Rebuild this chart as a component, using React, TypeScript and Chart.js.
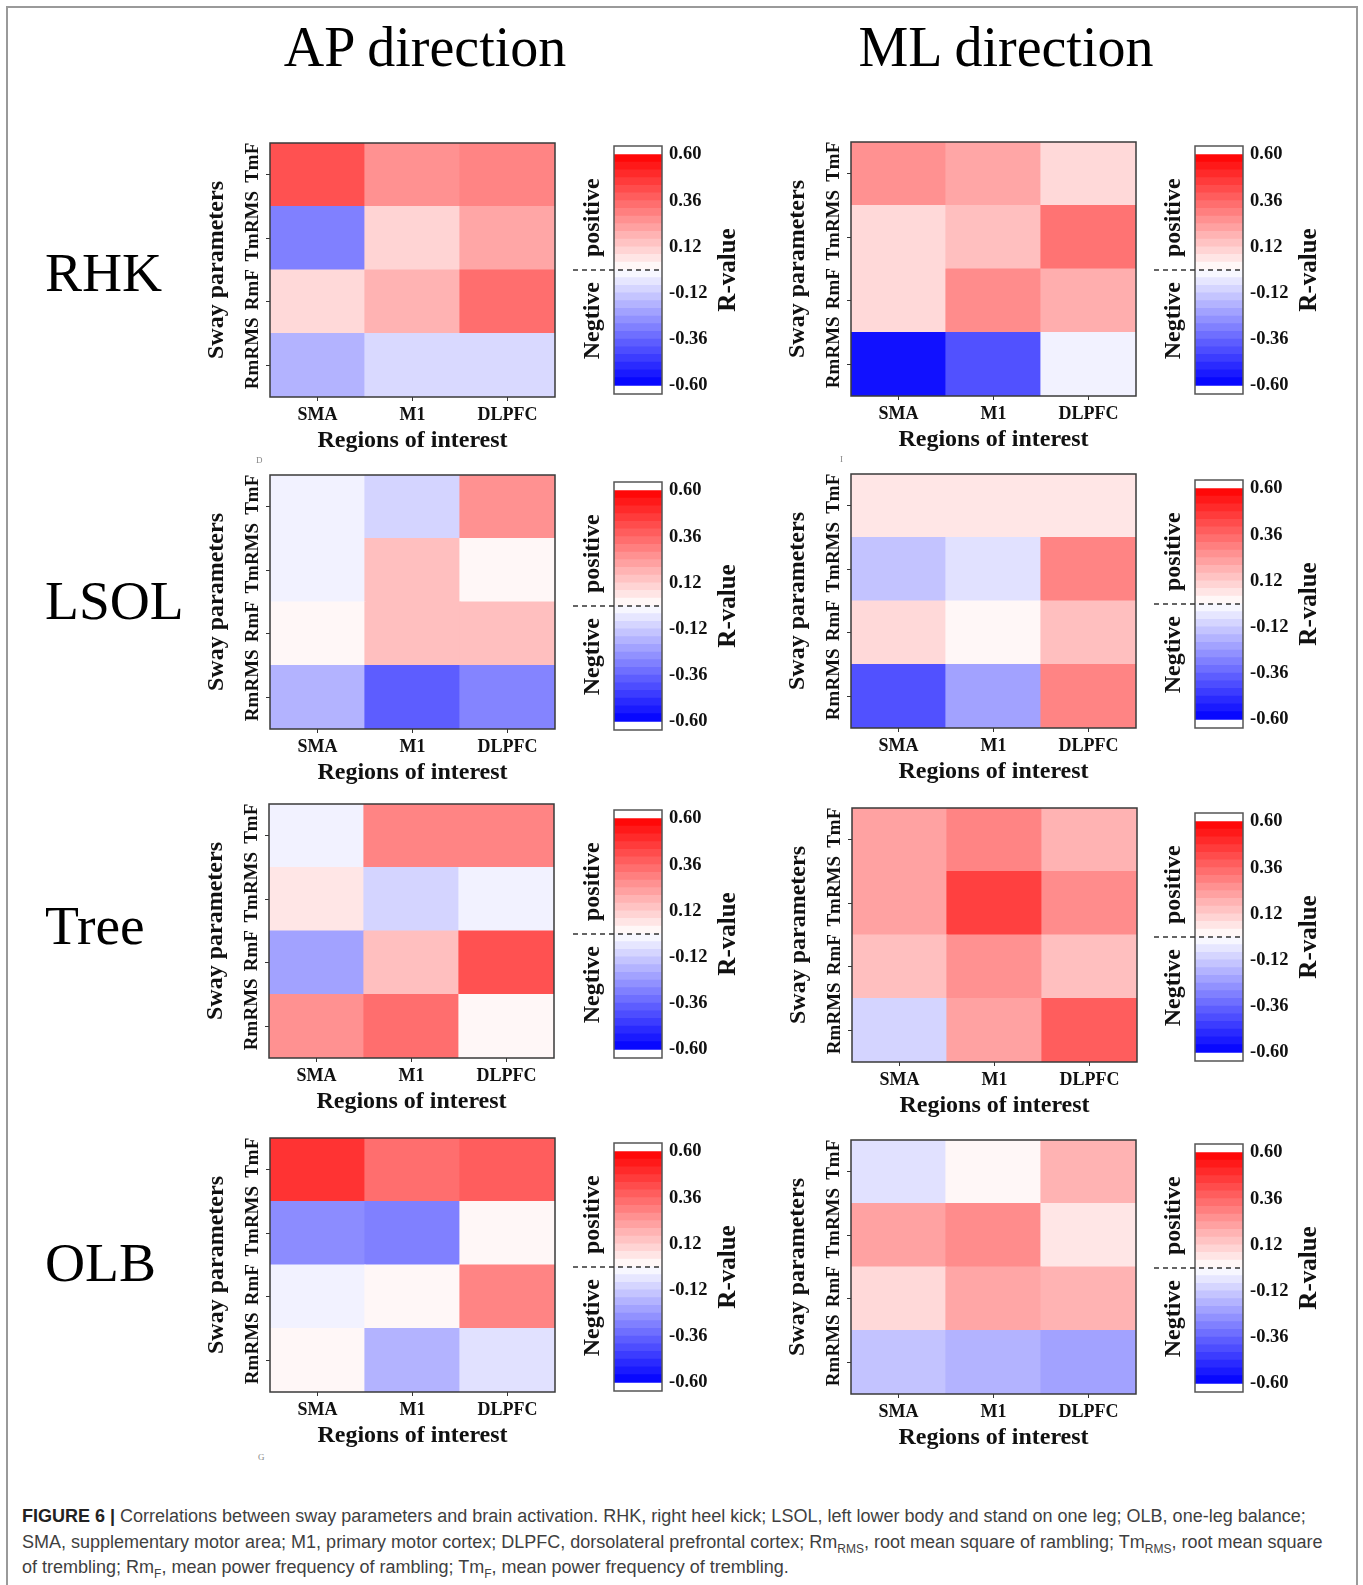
import React, { useEffect, useRef } from 'react';
import { Chart, registerables } from 'chart.js';

Chart.register(...registerables);

const SERIF = '"Liberation Serif", "Times New Roman", serif';
const SANS = '"Liberation Sans", Arial, sans-serif';

// Categories
const REGIONS = ['SMA', 'M1', 'DLPFC'];
const SWAY_PARAMS = ['RmRMS', 'RmF', 'TmRMS', 'TmF']; // bottom -> top
const SWAY_TICKS = [0.5, 1.5, 2.5, 3.5];
const CBAR_TICKS = [-0.6, -0.36, -0.12, 0.12, 0.36, 0.6];
const CBAR_LIMIT = 0.6;
const CBAR_STEP = 0.04;
const CBAR_RANGE = 0.645;

// R-values, rows bottom -> top (RmRMS, RmF, TmRMS, TmF), columns SMA, M1, DLPFC
const RHK_AP = [[-0.18, -0.09, -0.09], [0.09, 0.18, 0.34], [-0.30, 0.10, 0.21], [0.41, 0.26, 0.29]];
const RHK_ML = [[-0.56, -0.41, -0.03], [0.09, 0.27, 0.19], [0.09, 0.15, 0.33], [0.26, 0.21, 0.09]];
const LSOL_AP = [[-0.18, -0.38, -0.29], [0.02, 0.15, 0.15], [-0.03, 0.15, 0.02], [-0.03, -0.10, 0.26]];
const LSOL_ML = [[-0.41, -0.22, 0.29], [0.09, 0.02, 0.15], [-0.14, -0.07, 0.29], [0.06, 0.06, 0.06]];
const TREE_AP = [[0.26, 0.34, 0.02], [-0.22, 0.15, 0.41], [0.06, -0.10, -0.03], [-0.03, 0.29, 0.29]];
const TREE_ML = [[-0.10, 0.22, 0.38], [0.15, 0.26, 0.15], [0.22, 0.45, 0.27], [0.22, 0.29, 0.18]];
const OLB_AP = [[0.02, -0.18, -0.07], [-0.03, 0.02, 0.29], [-0.27, -0.30, 0.02], [0.48, 0.34, 0.38]];
const OLB_ML = [[-0.14, -0.18, -0.22], [0.09, 0.21, 0.18], [0.22, 0.27, 0.06], [-0.07, 0.02, 0.18]];

const TASKS = ['RHK', 'LSOL', 'Tree', 'OLB'];
const AP_VALUES = [RHK_AP, LSOL_AP, TREE_AP, OLB_AP];
const ML_VALUES = [RHK_ML, LSOL_ML, TREE_ML, OLB_ML];

// layout (page pixels)
const AP_PLOTS = [[270, 143], [270, 475], [269, 804], [270, 1138]];
const ML_PLOTS = [[851, 142], [851, 474], [852, 808], [851, 1140]];
const AP_CBARS = [[614, 146], [614, 482], [614, 810], [614, 1143]];
const ML_CBARS = [[1195, 146], [1195, 480], [1195, 813], [1195, 1144]];
const TASK_TOPS = [245, 573, 898, 1235];

const PLOT_W = 285;
const PLOT_H = 254;
const Y_AXIS_W = 75;
const X_AXIS_H = 60;
const CB_W = 48;
const CB_H = 248;

function rColor(r: number) {
  const t = Math.max(-1, Math.min(1, r / CBAR_LIMIT));
  const c = Math.round(255 * (1 - Math.abs(t)));
  return t >= 0 ? `rgb(255,${c},${c})` : `rgb(${c},${c},255)`;
}

const framePlugin = {
  id: 'plotFrame',
  afterDraw(chart: any) {
    const { ctx, chartArea: a } = chart;
    ctx.save();
    ctx.strokeStyle = '#3a3a3a';
    ctx.lineWidth = 1.5;
    ctx.strokeRect(a.left, a.top, a.right - a.left, a.bottom - a.top);
    ctx.restore();
  },
};

function Heatmap({ values, plotLeft, plotTop }: { values: number[][]; plotLeft: number; plotTop: number }) {
  const ref = useRef<HTMLCanvasElement>(null);
  const W = Y_AXIS_W + PLOT_W + 10;
  const H = 10 + PLOT_H + X_AXIS_H;
  useEffect(() => {
    const meas = document.createElement('canvas').getContext('2d')!;
    meas.font = `bold 19px ${SERIF}`;
    const widest = Math.max(...SWAY_PARAMS.map((s) => meas.measureText(s).width));
    const yPad = 17 - 4 - widest / 2;
    const chart = new Chart(ref.current!, {
      type: 'bar',
      data: {
        labels: REGIONS,
        datasets: SWAY_PARAMS.map((name, ri) => ({
          label: name,
          data: values[ri].map(() => 1),
          backgroundColor: values[ri].map(rColor),
          borderWidth: 0,
          barPercentage: 1,
          categoryPercentage: 1,
          inflateAmount: 0.6,
        })),
      },
      options: {
        responsive: false,
        animation: false,
        devicePixelRatio: 1,
        events: [],
        layout: { padding: { top: 10, right: 10, left: 0, bottom: 0 } },
        plugins: { legend: { display: false }, tooltip: { enabled: false } },
        scales: {
          x: {
            stacked: true,
            offset: true,
            grid: { offset: false, drawOnChartArea: false, drawTicks: true, tickLength: 4, color: '#333', lineWidth: 1 },
            border: { display: false },
            ticks: { font: { family: SERIF, size: 18, weight: 'bold' }, color: '#111', padding: 4, maxRotation: 0, autoSkip: false },
            title: {
              display: true,
              text: 'Regions of interest',
              font: { family: SERIF, size: 24, weight: 'bold' },
              color: '#111',
              padding: { top: 0, bottom: 2 },
            },
            afterFit: (s: any) => {
              s.height = X_AXIS_H;
              s.paddingLeft = 0;
              s.paddingRight = 0;
            },
          },
          y: {
            stacked: true,
            min: 0,
            max: 4,
            afterBuildTicks: (s: any) => {
              s.ticks = SWAY_TICKS.map((v) => ({ value: v }));
            },
            grid: { drawOnChartArea: false, drawTicks: true, tickLength: 4, color: '#333', lineWidth: 1 },
            border: { display: false },
            ticks: {
              callback: (_v: any, i: number) => SWAY_PARAMS[i],
              minRotation: 90,
              maxRotation: 90,
              crossAlign: 'center',
              labelOffset: -12,
              padding: yPad,
              font: { family: SERIF, size: 19, weight: 'bold' },
              color: '#111',
            },
            title: {
              display: true,
              text: 'Sway parameters',
              font: { family: SERIF, size: 24, weight: 'bold' },
              color: '#111',
              padding: { top: 7.6, bottom: 0 },
            },
            afterFit: (s: any) => {
              s.width = Y_AXIS_W;
              s.paddingTop = 0;
              s.paddingBottom = 0;
            },
          },
        },
      } as any,
      plugins: [framePlugin],
    });
    return () => chart.destroy();
  }, [values]);
  return (
    <canvas
      ref={ref}
      width={W}
      height={H}
      style={{ position: 'absolute', left: plotLeft - Y_AXIS_W, top: plotTop - 10, width: W, height: H }}
    />
  );
}

const colorbarPlugin = {
  id: 'colorbarDecor',
  afterDraw(chart: any) {
    const { ctx, chartArea: a } = chart;
    const y0 = chart.scales.y.getPixelForValue(0);
    ctx.save();
    ctx.strokeStyle = '#555';
    ctx.lineWidth = 1.5;
    ctx.strokeRect(a.left, a.top, a.right - a.left, a.bottom - a.top);
    ctx.strokeStyle = '#333';
    ctx.lineWidth = 1.3;
    ctx.setLineDash([5, 4]);
    ctx.beginPath();
    ctx.moveTo(a.left - 41, y0);
    ctx.lineTo(a.right, y0);
    ctx.stroke();
    ctx.setLineDash([]);
    ctx.fillStyle = '#111';
    ctx.font = `bold 24px ${SERIF}`;
    ctx.textBaseline = 'middle';
    ctx.save();
    ctx.translate(a.left - 21, y0 - 13);
    ctx.rotate(-Math.PI / 2);
    ctx.textAlign = 'left';
    ctx.fillText('positive', 0, 0);
    ctx.restore();
    ctx.save();
    ctx.translate(a.left - 21, y0 + 12);
    ctx.rotate(-Math.PI / 2);
    ctx.textAlign = 'right';
    ctx.fillText('Negtive', 0, 0);
    ctx.restore();
    ctx.save();
    ctx.translate(a.right + 67, y0);
    ctx.rotate(-Math.PI / 2);
    ctx.textAlign = 'center';
    ctx.font = `bold 25px ${SERIF}`;
    ctx.fillText('R-value', 0, 0);
    ctx.restore();
    ctx.restore();
  },
};

function ColorBar({ left, top }: { left: number; top: number }) {
  const ref = useRef<HTMLCanvasElement>(null);
  const PL = 60;
  const PR = 45;
  const AX = 55;
  const PV = 12;
  const W = PL + CB_W + AX + PR;
  const H = CB_H + 2 * PV;
  useEffect(() => {
    const bands: { lo: number; hi: number }[] = [];
    const n = Math.round((2 * CBAR_LIMIT) / CBAR_STEP);
    for (let i = 0; i < n; i++) {
      const lo = -CBAR_LIMIT + i * CBAR_STEP;
      bands.push({ lo, hi: lo + CBAR_STEP });
    }
    const chart = new Chart(ref.current!, {
      type: 'bar',
      data: {
        labels: ['R'],
        datasets: bands.map((b) => ({
          data: [[b.lo, b.hi]],
          backgroundColor: rColor((b.lo + b.hi) / 2),
          borderWidth: 0,
          grouped: false,
          barPercentage: 1,
          categoryPercentage: 1,
          inflateAmount: 0.5,
        })),
      } as any,
      options: {
        responsive: false,
        animation: false,
        devicePixelRatio: 1,
        events: [],
        layout: { padding: { top: PV, bottom: PV, left: PL, right: PR } },
        plugins: { legend: { display: false }, tooltip: { enabled: false } },
        scales: {
          x: { display: false, offset: true },
          y: {
            position: 'right',
            min: -CBAR_RANGE,
            max: CBAR_RANGE,
            afterBuildTicks: (s: any) => {
              s.ticks = CBAR_TICKS.map((v) => ({ value: v }));
            },
            grid: { display: false, drawTicks: false },
            border: { display: false },
            ticks: {
              padding: 7,
              font: { family: SERIF, size: 18.5, weight: 'bold' },
              color: '#111',
              callback: (v: any) => Number(v).toFixed(2),
            },
            afterFit: (s: any) => {
              s.width = AX;
              s.paddingTop = 0;
              s.paddingBottom = 0;
            },
          },
        },
      } as any,
      plugins: [colorbarPlugin],
    });
    return () => chart.destroy();
  }, []);
  return (
    <canvas
      ref={ref}
      width={W}
      height={H}
      style={{ position: 'absolute', left: left - PL, top: top - PV, width: W, height: H }}
    />
  );
}

const subStyle = { fontSize: 12, lineHeight: 0 };

export default function App() {
  return (
    <div
      style={{
        position: 'absolute',
        left: 0,
        top: 0,
        width: 1363,
        height: 1585,
        overflow: 'hidden',
        background: '#fff',
      }}
    >
      <div
        style={{
          position: 'absolute',
          left: 6,
          top: 6,
          width: 1348,
          height: 1640,
          border: '2px solid #9a9a9a',
        }}
      />
      <div style={{ position: 'absolute', left: 425, top: 18.5, transform: 'translateX(-50%)', fontFamily: SERIF, fontSize: 56, lineHeight: '56px', color: '#000', whiteSpace: 'nowrap' }}>
        AP direction
      </div>
      <div style={{ position: 'absolute', left: 1006, top: 18.5, transform: 'translateX(-50%)', fontFamily: SERIF, fontSize: 56, lineHeight: '56px', color: '#000', whiteSpace: 'nowrap' }}>
        ML direction
      </div>
      {TASKS.map((t, i) => (
        <div key={t} style={{ position: 'absolute', left: 45, top: TASK_TOPS[i], fontFamily: SERIF, fontSize: 55.5, lineHeight: '55.5px', color: '#000', whiteSpace: 'nowrap' }}>
          {t}
        </div>
      ))}
      {AP_VALUES.map((v, i) => (
        <Heatmap key={'ap' + i} values={v} plotLeft={AP_PLOTS[i][0]} plotTop={AP_PLOTS[i][1]} />
      ))}
      {ML_VALUES.map((v, i) => (
        <Heatmap key={'ml' + i} values={v} plotLeft={ML_PLOTS[i][0]} plotTop={ML_PLOTS[i][1]} />
      ))}
      {AP_CBARS.map((c, i) => (
        <ColorBar key={'apc' + i} left={c[0]} top={c[1]} />
      ))}
      {ML_CBARS.map((c, i) => (
        <ColorBar key={'mlc' + i} left={c[0]} top={c[1]} />
      ))}
      <div style={{ position: 'absolute', left: 256, top: 455, fontFamily: SERIF, fontSize: 9, color: '#888' }}>D</div>
      <div style={{ position: 'absolute', left: 840, top: 454, fontFamily: SERIF, fontSize: 9, color: '#888' }}>I</div>
      <div style={{ position: 'absolute', left: 258, top: 1452, fontFamily: SERIF, fontSize: 9, color: '#888' }}>G</div>
      <div
        style={{
          position: 'absolute',
          left: 22,
          top: 1504,
          fontFamily: SANS,
          fontSize: 18,
          lineHeight: '25.5px',
          color: '#3f3f3f',
          whiteSpace: 'nowrap',
        }}
      >
        <b style={{ color: '#222' }}>FIGURE 6 |</b> Correlations between sway parameters and brain activation. RHK, right heel kick; LSOL, left lower body and stand on one leg; OLB, one-leg balance;
        <br />
        SMA, supplementary motor area; M1, primary motor cortex; DLPFC, dorsolateral prefrontal cortex; Rm
        <sub style={subStyle}>RMS</sub>, root mean square of rambling; Tm
        <sub style={subStyle}>RMS</sub>, root mean square
        <br />
        of trembling; Rm<sub style={subStyle}>F</sub>, mean power frequency of rambling; Tm
        <sub style={subStyle}>F</sub>, mean power frequency of trembling.
      </div>
    </div>
  );
}
